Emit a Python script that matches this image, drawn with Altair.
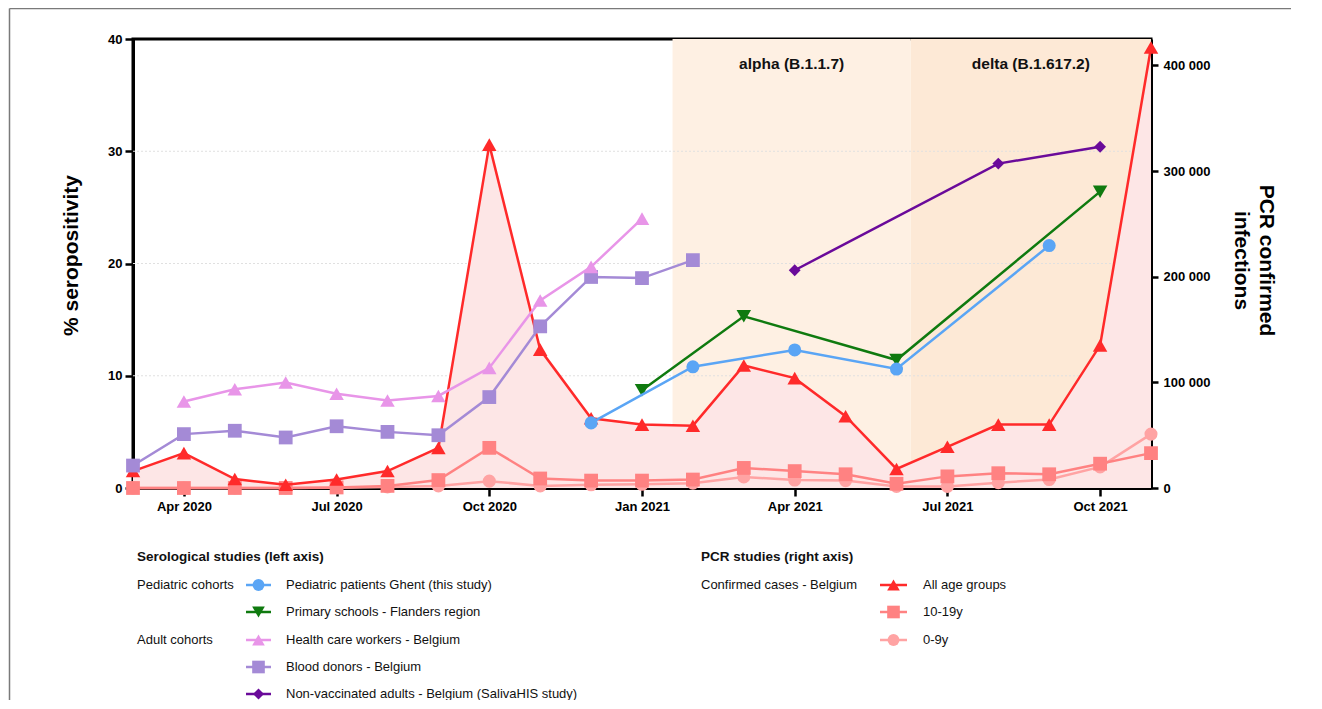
import altair as alt
import pandas as pd

# ---------------- data ----------------
months = ["Mar 2020", "Apr 2020", "May 2020", "Jun 2020", "Jul 2020", "Aug 2020",
          "Sep 2020", "Oct 2020", "Nov 2020", "Dec 2020", "Jan 2021", "Feb 2021",
          "Mar 2021", "Apr 2021", "May 2021", "Jun 2021", "Jul 2021", "Aug 2021",
          "Sep 2021", "Oct 2021", "Nov 2021"]
month_idx = list(range(len(months)))
tick_months = [1, 4, 7, 10, 13, 16, 19]

# serological studies (% seropositivity, left axis)
ghent_m = [9, 11, 13, 15, 18]
ghent_v = [5.8, 10.8, 12.3, 10.6, 21.6]
schools_m = [10, 12, 15, 19]
schools_v = [8.7, 15.3, 11.4, 26.4]
hcw_m = [1, 2, 3, 4, 5, 6, 7, 8, 9, 10]
hcw_v = [7.7, 8.8, 9.4, 8.4, 7.8, 8.2, 10.7, 16.7, 19.7, 24.0]
donors_m = [0, 1, 2, 3, 4, 5, 6, 7, 8, 9, 10, 11]
donors_v = [2.0, 4.8, 5.1, 4.5, 5.5, 5.0, 4.7, 8.1, 14.4, 18.8, 18.7, 20.3]
saliva_m = [13, 17, 19]
saliva_v = [19.4, 28.9, 30.4]

# PCR confirmed infections (right axis)
pcr_all = [16000, 33000, 8500, 3000, 8000, 16000, 38000, 325000, 131000, 66000,
           60000, 59000, 116000, 104000, 68000, 18000, 39000, 60000, 60000, 135000, 417000]
pcr_10_19 = [0, 0, 0, 0, 500, 2000, 7500, 38000, 9000, 7000, 7000, 8000, 19000,
             16000, 13000, 4000, 11000, 14000, 13000, 23000, 33000]
pcr_0_9 = [0, 0, 0, 0, 300, 1000, 2000, 6500, 2000, 3000, 3500, 4500, 10500, 7500,
           7000, 1500, 1500, 5000, 8000, 20000, 51000]

variants = ["alpha (B.1.1.7)", "delta (B.1.617.2)"]
variant_start = [10.6, 15.28]
variant_end = [15.28, 20]

grid_values = [10, 20, 30]

sero_title = "Serological studies (left axis)"
pcr_title = "PCR studies (right axis)"
sero_groups = ["Pediatric cohorts", "", "Adult cohorts", "", ""]
sero_labels = ["Pediatric patients Ghent (this study)", "Primary schools - Flanders region",
               "Health care workers - Belgium", "Blood donors - Belgium",
               "Non-vaccinated adults - Belgium (SalivaHIS study)"]
pcr_group_label = "Confirmed cases - Belgium"
pcr_labels = ["All age groups", "10-19y", "0-9y"]

# ---------------- style ----------------
W, H = 1018, 449
FONT = "Liberation Sans"
C_GHENT, C_SCHOOL, C_HCW, C_DONOR, C_SALIVA = "#5aa5f5", "#0f7a0f", "#e895e8", "#a48ad6", "#6a0a9a"
C_ALL, C_1019, C_09 = "#ff2a2a", "#ff8282", "#ffa3a3"
S_TRI, S_SQ, S_CIRC, S_DIA = 210, 190, 170, 140

month_expr = "[" + ",".join("'" + m + "'" for m in months) + "][datum.value]"
x_scale = alt.Scale(domain=[0, 20], nice=False, zero=False)
x_axis = alt.Axis(values=tick_months, labelExpr=month_expr, title=None, grid=False,
                  tickSize=8, labelPadding=4)


def X(field):
    return alt.X(field, type="quantitative", scale=x_scale, axis=x_axis)


left_scale = alt.Scale(domain=[0, 40], nice=False, zero=True)
right_scale = alt.Scale(domain=[0, 425000], nice=False, zero=True)

Y_left = alt.Y("v:Q", scale=left_scale,
               axis=alt.Axis(orient="left", values=[0, 10, 20, 30, 40], grid=False,
                             title="% seropositivity", titleX=-62, titleY=216,
                             titleAngle=-90, titleAlign="center", titleBaseline="middle",
                             titleFontSize=21, titleFontWeight="bold", titleFont=FONT,
                             titleColor="black", tickSize=8, labelPadding=3))
Y_left_noaxis = alt.Y("v:Q", scale=left_scale, axis=None)
Y_right = alt.Y("v:Q", scale=right_scale,
                axis=alt.Axis(orient="right", values=[0, 100000, 200000, 300000, 400000],
                              labelExpr="datum.value == 0 ? '0' : format(datum.value/1000, 'd') + ' 000'",
                              grid=False, title=["PCR confirmed", "infections"],
                              titleX=114, titleY=221, titleAngle=90, titleAlign="center",
                              titleBaseline="middle", titleLineHeight=25,
                              titleFontSize=21, titleFontWeight="bold", titleFont=FONT,
                              titleColor="black", tickSize=7, labelPadding=5))


def series(ms, vs, color, shape, size, Y, width=2.5):
    df = pd.DataFrame({"m": ms, "v": vs})
    base = alt.Chart(df).encode(x=X("m"), y=Y)
    return alt.layer(
        base.mark_line(color=color, strokeWidth=width),
        base.mark_point(shape=shape, filled=True, color=color, size=size, opacity=1),
    )


# ---------------- background shading ----------------
var_df = pd.DataFrame({"name": variants, "start": variant_start, "end": variant_end})
shade = alt.Chart(var_df).mark_rect().encode(
    x=X("start"), x2="end",
    y=alt.value(0), y2=alt.value(H),
    color=alt.Color("name:N", scale=alt.Scale(domain=variants, range=["#fef0e3", "#fde9d6"]),
                    legend=None),
)
annot = alt.Chart(var_df).transform_calculate(mid="(datum.start + datum.end) / 2").mark_text(
    font=FONT, fontSize=15.5, fontWeight="bold", color="#111", baseline="middle", align="center"
).encode(x=X("mid"), y=alt.value(25), text="name:N")

grid = alt.Chart(pd.DataFrame({"v": grid_values})).mark_rule(
    color="#e0e0e0", strokeDash=[2, 2], strokeWidth=1
).encode(y=Y_left_noaxis)

# ---------------- PCR group ----------------
all_df = pd.DataFrame({"m": month_idx, "v": pcr_all})
area = alt.Chart(all_df).mark_area(color="#fde6e6", opacity=1).encode(x=X("m"), y=Y_right)
pcr_group = alt.layer(
    area,
    series(month_idx, pcr_0_9, C_09, "circle", S_CIRC, Y_right),
    series(month_idx, pcr_10_19, C_1019, "square", S_SQ, Y_right),
    series(month_idx, pcr_all, C_ALL, "triangle-up", S_TRI, Y_right),
)

# ---------------- serology group ----------------
sero_group = alt.layer(
    series(donors_m, donors_v, C_DONOR, "square", S_SQ, Y_left),
    series(hcw_m, hcw_v, C_HCW, "triangle-up", S_TRI, Y_left),
    series(saliva_m, saliva_v, C_SALIVA, "diamond", S_DIA, Y_left),
    series(schools_m, schools_v, C_SCHOOL, "triangle-down", S_TRI, Y_left),
    series(ghent_m, ghent_v, C_GHENT, "circle", S_CIRC, Y_left),
)

# ---------------- custom legend ----------------
one = alt.Data(values=[{"a": 1}])


def txt(s, x, y, bold=False):
    return alt.Chart(one).mark_text(
        text=s, font=FONT, fontSize=13 if not bold else 13.5,
        fontWeight="bold" if bold else "normal",
        color="#111", align="left", baseline="middle"
    ).encode(x=alt.value(x), y=alt.value(y))


def sym(x0, x1, y, color, shape, size):
    return alt.layer(
        alt.Chart(one).mark_rule(color=color, strokeWidth=2.5).encode(
            x=alt.value(x0), x2=alt.value(x1), y=alt.value(y)),
        alt.Chart(one).mark_point(shape=shape, filled=True, color=color, size=size, opacity=1).encode(
            x=alt.value((x0 + x1) / 2), y=alt.value(y)),
    )


legend_layers = []
rows_y = [546, 573, 601, 628, 655]
legend_layers.append(txt(sero_title, 4, 518, bold=True))
sero_style = [(C_GHENT, "circle", 140), (C_SCHOOL, "triangle-down", 160),
              (C_HCW, "triangle-up", 160), (C_DONOR, "square", 160), (C_SALIVA, "diamond", 120)]
for i, lab in enumerate(sero_labels):
    if sero_groups[i]:
        legend_layers.append(txt(sero_groups[i], 4, rows_y[i]))
    c, s, z = sero_style[i]
    legend_layers.append(sym(113, 138, rows_y[i], c, s, z))
    legend_layers.append(txt(lab, 153, rows_y[i]))

legend_layers.append(txt(pcr_title, 568, 518, bold=True))
legend_layers.append(txt(pcr_group_label, 568, rows_y[0]))
pcr_style = [(C_ALL, "triangle-up", 160), (C_1019, "square", 160), (C_09, "circle", 140)]
for i, lab in enumerate(pcr_labels):
    c, s, z = pcr_style[i]
    legend_layers.append(sym(747, 774, rows_y[i], c, s, z))
    legend_layers.append(txt(lab, 790, rows_y[i]))

# outer frame (thin grey border of the figure)
frame = alt.layer(
    alt.Chart(one).mark_rule(color="#7a7a7a", strokeWidth=1.5).encode(
        x=alt.value(-123.5), y=alt.value(-30.5), y2=alt.value(H + 300)),
    alt.Chart(one).mark_rule(color="#7a7a7a", strokeWidth=1.5).encode(
        x=alt.value(-123.5), x2=alt.value(W + 300), y=alt.value(-30.5)),
)

chart = alt.layer(
    shade, annot, grid, pcr_group, sero_group, *legend_layers, frame
).resolve_scale(
    y="independent", color="independent"
).properties(
    width=W, height=H, background="white",
    padding={"left": 125, "top": 31, "right": 140, "bottom": 212},
    autosize=alt.AutoSizeParams(type="none"),
).configure_view(
    stroke="black", strokeWidth=3
).configure_axis(
    domainColor="black", domainWidth=3, tickColor="black", tickWidth=2.5,
    labelFont=FONT, labelFontSize=13, labelFontWeight="bold", labelColor="black",
)

chart.save("out.html", embed_options={"renderer": "svg", "actions": False})
